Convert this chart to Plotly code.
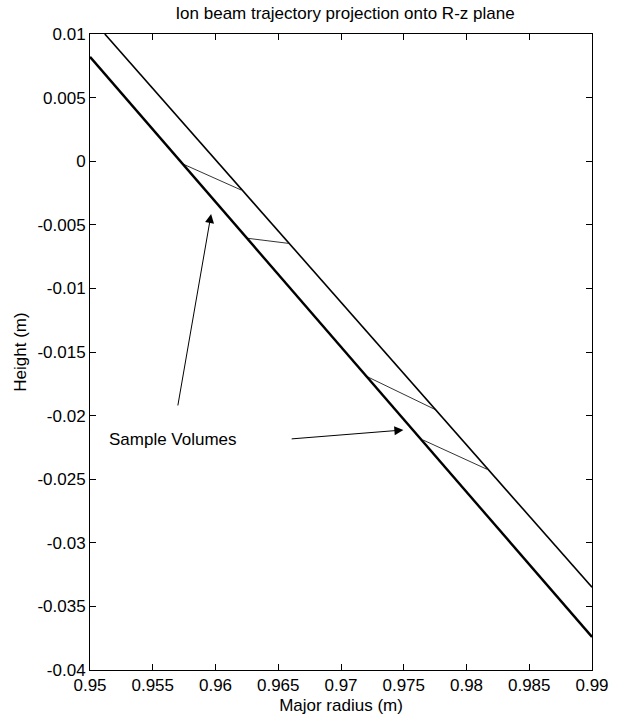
import plotly.graph_objects as go

# Beam boundary lines (major radius R in m, height z in m)
upper_R = [0.95118, 0.99]
upper_z = [0.01, -0.0335]
lower_R = [0.95, 0.99]
lower_z = [0.0082, -0.0374]

# Sample volume segments (start on lower line, end on upper line)
seg_R = [[0.95745, 0.96203], [0.96255, 0.96582], [0.97209, 0.97758], [0.97654, 0.98163]]
seg_z = [[-0.00024, -0.00226], [-0.00606, -0.00646], [-0.01694, -0.01956], [-0.02192, -0.02422]]

# Arrows: (tail R, tail z) -> (head R, head z)
arrow_tail_R = [0.95698, 0.96595]
arrow_tail_z = [-0.01932, -0.02184]
arrow_head_R = [0.95965, 0.97497]
arrow_head_z = [-0.00415, -0.02113]

label_text = "Sample Volumes"
label_R = 0.95134
label_z = -0.0219

x_ticks = [0.95, 0.955, 0.96, 0.965, 0.97, 0.975, 0.98, 0.985, 0.99]
x_ticklabels = ["0.95", "0.955", "0.96", "0.965", "0.97", "0.975", "0.98", "0.985", "0.99"]
y_ticks = [0.01, 0.005, 0, -0.005, -0.01, -0.015, -0.02, -0.025, -0.03, -0.035, -0.04]
y_ticklabels = ["0.01", "0.005", "0", "-0.005", "-0.01", "-0.015", "-0.02", "-0.025", "-0.03", "-0.035", "-0.04"]

FONT = "Liberation Sans, Arial, sans-serif"
FS = 17

fig = go.Figure()
fig.add_trace(go.Scatter(x=upper_R, y=upper_z, mode="lines",
                         line=dict(color="black", width=1.6), showlegend=False))
fig.add_trace(go.Scatter(x=lower_R, y=lower_z, mode="lines",
                         line=dict(color="black", width=2.4), showlegend=False))
for r, z in zip(seg_R, seg_z):
    fig.add_trace(go.Scatter(x=r, y=z, mode="lines",
                             line=dict(color="black", width=0.8), showlegend=False))

for tr, tz, hr, hz in zip(arrow_tail_R, arrow_tail_z, arrow_head_R, arrow_head_z):
    fig.add_annotation(x=hr, y=hz, ax=tr, ay=tz, xref="x", yref="y", axref="x", ayref="y",
                       showarrow=True, arrowhead=2, arrowsize=1.8, arrowwidth=1,
                       arrowcolor="black", text="")

fig.add_annotation(x=label_R, y=label_z, xref="x", yref="y", text=label_text,
                   showarrow=False, xanchor="left", yanchor="middle",
                   font=dict(family=FONT, size=FS, color="black"))

axis_common = dict(showgrid=False, zeroline=False, showline=True, linecolor="black",
                   linewidth=1, mirror="ticks", ticks="inside", ticklen=6,
                   tickcolor="black", tickfont=dict(family=FONT, size=FS, color="black"))

fig.update_xaxes(range=[0.95, 0.99], tickvals=x_ticks, ticktext=x_ticklabels,
                 title=dict(text="Major radius (m)", font=dict(family=FONT, size=FS, color="black"),
                            standoff=4), **axis_common)
fig.update_yaxes(range=[-0.04, 0.01], tickvals=y_ticks, ticktext=y_ticklabels,
                 title=dict(text="Height (m)", font=dict(family=FONT, size=FS, color="black"),
                            standoff=6), **axis_common)

fig.update_layout(
    width=621, height=727,
    margin=dict(l=90, r=21, t=34, b=57, pad=0),
    plot_bgcolor="white", paper_bgcolor="white",
    title=dict(text="Ion beam trajectory projection onto R-z plane",
               font=dict(family=FONT, size=FS, color="black"),
               x=(90 + 600) / 2 / 621, xanchor="center",
               y=1 - 13 / 727, yanchor="middle", yref="container"),
)

fig.write_html("out.html")
